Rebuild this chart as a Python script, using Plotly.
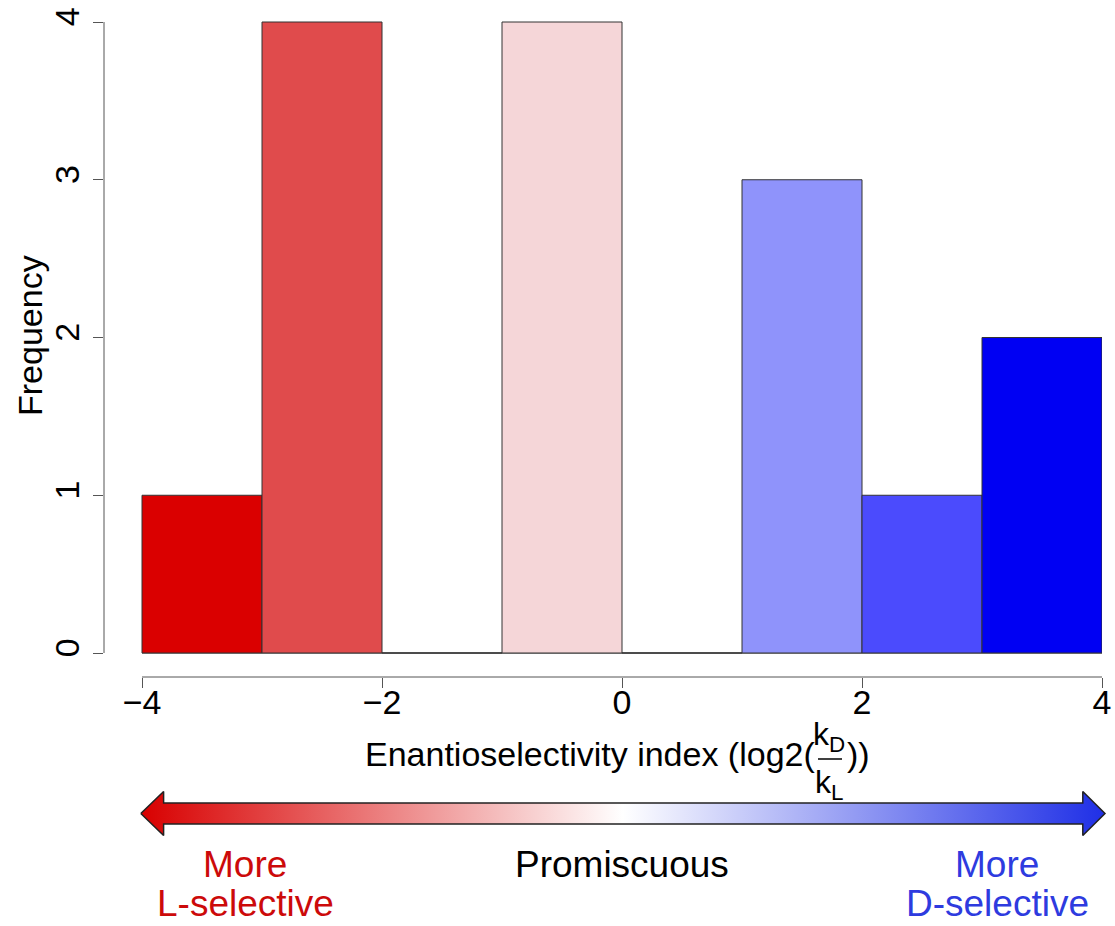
import plotly.graph_objects as go

# ---------------- data ----------------
bin_left = [-4, -3, -2, -1, 0, 1, 2, 3]
bin_width = 1
counts = [1, 4, 0, 4, 0, 3, 1, 2]
bar_colors = ["#DA0000", "#E04B4C", "#E04B4C", "#F5D6D8", "#F5D6D8", "#8F93FB", "#4B4BFD", "#0000F3"]
x_ticks = [-4, -2, 0, 2, 4]
y_ticks = [0, 1, 2, 3, 4]

# ---------------- layout helpers ----------------
W, H = 1115, 926
ML, MR, MT, MB = 104, 0, 21, 0
PW, PH = W - ML - MR, H - MT - MB
FONT = "Liberation Sans, Arial, Helvetica, sans-serif"


def px(x):
    return (x - ML) / PW


def py(y):
    return (H - MB - y) / PH


# pixel geometry of the axes region
x_left_px, x_right_px = 142, 1102      # -4 .. 4
y_zero_px, y_top_px = 653, 22          # 0 .. 4
x_axis_px = 677
ppx = (x_right_px - x_left_px) / (x_ticks[-1] - x_ticks[0])
ppy = (y_zero_px - y_top_px) / 4.0
x_lo = x_ticks[0] - (x_left_px - ML) / ppx
x_hi = x_ticks[-1]
y_lo = -(x_axis_px - y_zero_px) / ppy
y_hi = 4 + (y_top_px - MT) / ppy

centers = [b + bin_width / 2 for b in bin_left]

fig = go.Figure()
fig.add_trace(go.Bar(
    x=centers, y=counts, width=bin_width,
    marker=dict(color=bar_colors, line=dict(color="#333333", width=1)),
    hoverinfo="skip", showlegend=False, xaxis="x", yaxis="y",
))

# ---------------- gradient arrow ----------------
head_l, head_r = -3.82, 3.84
tip_l, tip_r = -4.01, 4.025
hh, bh = 22, 10.5
ax = [tip_l, head_l, head_l, head_r, head_r, tip_r, head_r, head_r, head_l, head_l, tip_l]
ay = [0, hh, bh, bh, hh, 0, -hh, -bh, -bh, -hh, 0]
fig.add_trace(go.Scatter(
    x=ax, y=ay, mode="lines", fill="toself",
    fillgradient=dict(type="horizontal",
                      colorscale=[[0, "#D80000"], [0.5, "#FFFFFF"], [1, "#1F2FE6"]]),
    line=dict(color="#222222", width=1.5),
    hoverinfo="skip", showlegend=False, xaxis="x2", yaxis="y2",
))

axis_grey = "#555555"
fig.update_layout(
    template="none",
    width=W, height=H,
    margin=dict(l=ML, r=MR, t=MT, b=MB, pad=0, autoexpand=False),
    paper_bgcolor="white", plot_bgcolor="white",
    font=dict(family=FONT, size=34, color="black"),
    xaxis=dict(domain=[0, (x_right_px - ML) / PW], range=[x_lo, x_hi], anchor="y",
               automargin=False,
               tickvals=x_ticks, ticks="outside", ticklen=10, tickwidth=1, tickcolor=axis_grey,
               ticklabelstandoff=-15,
               showline=False, showgrid=False, zeroline=False,
               tickfont=dict(size=34, family=FONT, color="black")),
    yaxis=dict(domain=[py(x_axis_px), 1], range=[y_lo, y_hi], anchor="x",
               automargin=False,
               tickvals=y_ticks, ticks="outside", ticklen=10, tickwidth=1, tickcolor=axis_grey,
               tickangle=-90, showline=False, showgrid=False, zeroline=False,
               tickfont=dict(size=34, family=FONT, color="black")),
    xaxis2=dict(domain=[0, 1], range=[x_lo, x_lo + PW / ppx], anchor="y2", visible=False,
                automargin=False),
    yaxis2=dict(domain=[py(843.5), py(783.5)], range=[-30, 30], anchor="x2", visible=False,
                automargin=False),
)

# axis lines (R style: span only the tick range)
fig.add_shape(type="line", xref="x domain", yref="y", x0=0, x1=0, y0=y_ticks[0], y1=y_ticks[-1],
              line=dict(color=axis_grey, width=1))
fig.add_shape(type="line", xref="x", yref="y domain", x0=x_ticks[0], x1=x_ticks[-1], y0=0, y1=0,
              line=dict(color=axis_grey, width=1))
# baseline for empty bins
fig.add_shape(type="line", xref="x", yref="y", x0=bin_left[0], x1=bin_left[-1] + bin_width, y0=0, y1=0,
              line=dict(color="#333333", width=1), layer="below")

# fraction line in x title
fig.add_shape(type="line", xref="paper", yref="paper", x0=px(818), x1=px(842), y0=py(759), y1=py(759),
              line=dict(color="black", width=1.5))


def ann(text, x, y, size=34, color="black", xanchor="center", angle=0):
    fig.add_annotation(text=text, x=px(x), y=py(y), xref="paper", yref="paper",
                       xanchor=xanchor, yanchor="middle", showarrow=False, textangle=angle,
                       font=dict(family=FONT, size=size, color=color))


ann("Frequency", 30, 336, angle=-90)
ann("Enantioselectivity index (log2(", 817, 754, xanchor="right")
ann("k<sub>D</sub>", 829, 736, size=32)
ann("k<sub>L</sub>", 829, 784, size=32)
ann("))", 845, 754, xanchor="left")

red_txt, blue_txt = "#CC0A0A", "#2E3BDF"
ann("More", 245, 864, size=37, color=red_txt)
ann("L-selective", 245, 903, size=37, color=red_txt)
ann("Promiscuous", 622, 864, size=37)
ann("More", 997, 864, size=37, color=blue_txt)
ann("D-selective", 997, 903, size=37, color=blue_txt)

fig.write_html("out.html")
